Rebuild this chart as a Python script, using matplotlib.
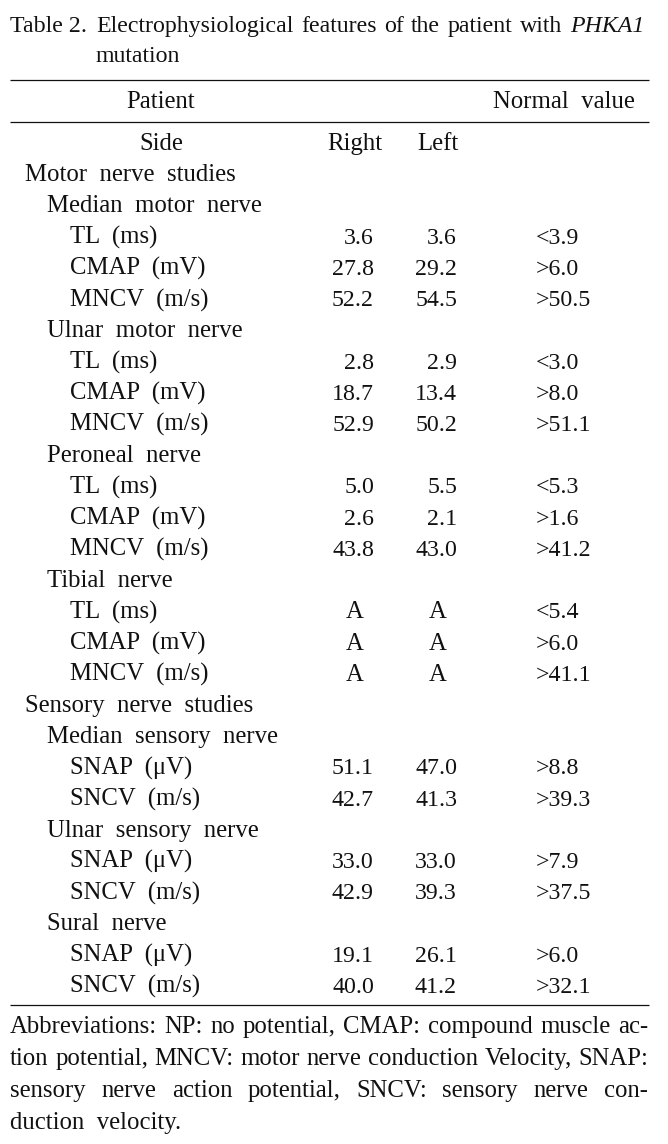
import matplotlib
matplotlib.use("Agg")
import matplotlib.pyplot as plt

plt.rcParams['font.family'] = ['Liberation Serif', 'DejaVu Serif']

# table data
title_words = ["Electrophysiological", "features", "of", "the", "patient", "with"]
title_gene = "PHKA1"
col_patient = "Patient"
col_normal = "Normal value"
col_side = "Side"
col_right = "Right"
col_left = "Left"

labels = ["Motor nerve studies",
          "Median motor nerve", "TL (ms)", "CMAP (mV)", "MNCV (m/s)",
          "Ulnar motor nerve", "TL (ms)", "CMAP (mV)", "MNCV (m/s)",
          "Peroneal nerve", "TL (ms)", "CMAP (mV)", "MNCV (m/s)",
          "Tibial nerve", "TL (ms)", "CMAP (mV)", "MNCV (m/s)",
          "Sensory nerve studies",
          "Median sensory nerve", "SNAP (\u03bcV)", "SNCV (m/s)",
          "Ulnar sensory nerve", "SNAP (\u03bcV)", "SNCV (m/s)",
          "Sural nerve", "SNAP (\u03bcV)", "SNCV (m/s)"]
levels = [0, 1, 2, 2, 2, 1, 2, 2, 2, 1, 2, 2, 2, 1, 2, 2, 2,
          0, 1, 2, 2, 1, 2, 2, 1, 2, 2]
right = ["", "", "3.6", "27.8", "52.2", "", "2.8", "18.7", "52.9",
         "", "5.0", "2.6", "43.8", "", "A", "A", "A",
         "", "", "51.1", "42.7", "", "33.0", "42.9", "", "19.1", "40.0"]
left = ["", "", "3.6", "29.2", "54.5", "", "2.9", "13.4", "50.2",
        "", "5.5", "2.1", "43.0", "", "A", "A", "A",
        "", "", "47.0", "41.3", "", "33.0", "39.3", "", "26.1", "41.2"]
normal = ["", "", "<3.9", ">6.0", ">50.5", "", "<3.0", ">8.0", ">51.1",
          "", "<5.3", ">1.6", ">41.2", "", "<5.4", ">6.0", ">41.1",
          "", "", ">8.8", ">39.3", "", ">7.9", ">37.5", "", ">6.0", ">32.1"]

footnote = ["Abbreviations: NP: no potential, CMAP: compound muscle ac-",
            "tion potential, MNCV: motor nerve conduction Velocity, SNAP:",
            "sensory nerve action potential, SNCV: sensory nerve con-",
            "duction velocity."]

W, H = 668, 1144
fig = plt.figure(figsize=(W / 100, H / 100), dpi=100)
ax = fig.add_axes([0, 0, 1, 1])
ax.set_xlim(0, W)
ax.set_ylim(H, 0)
ax.axis('off')

FS = 17.8       # labels
FS_NUM = 17.2   # numbers
FS_TITLE = 17.2
COLOR = '#111111'
SP = "  "       # the source uses wide word spacing
renderer = fig.canvas.get_renderer()


def put(x, y, s, size=FS, ha='left', style='normal'):
    return ax.text(x, y, s, fontsize=size, color=COLOR, ha=ha,
                   va='baseline', style=style)


def justify(words, x0, x1, y, size=FS, styles=None):
    texts = [put(0, y, w, size=size, style=(styles[i] if styles else 'normal'))
             for i, w in enumerate(words)]
    ws = [t.get_window_extent(renderer=renderer).width for t in texts]
    gap = (x1 - x0 - sum(ws)) / (len(words) - 1)
    x = x0
    for t, w in zip(texts, ws):
        t.set_x(x)
        x += w + gap


# title
put(10, 32, "Table 2.", size=FS_TITLE)
justify(title_words + [title_gene], 96, 644, 32, size=FS_TITLE,
        styles=['normal'] * len(title_words) + ['italic'])
put(96, 62, "mutation", size=FS_TITLE)

# rules
for y in (80, 122, 1005):
    ax.plot([10, 649], [y, y], color=COLOR, lw=0.9, solid_capstyle='butt')

# header
put(161, 108, col_patient, ha='center')
put(635, 108, col_normal.replace(" ", SP), ha='right')
put(161, 150, col_side, ha='center')
put(355, 150, col_right, ha='center')
put(438, 150, col_left, ha='center')

# body
y0, dy = 181.2, 31.22
indent = [25, 47, 70]
for i, lab in enumerate(labels):
    y = y0 + i * dy
    put(indent[levels[i]], y, lab.replace(" ", SP))
    for val, xr, xc in ((right[i], 374, 355), (left[i], 457, 438)):
        if val == "A":
            put(xc, y, val, ha='center')
        elif val:
            put(xr, y, val, size=FS_NUM, ha='right')
    if normal[i]:
        put(536, y, normal[i], size=FS_NUM)

# footnote
fy = [1033, 1065, 1097, 1129]
for j, line in enumerate(footnote):
    if j < len(footnote) - 1:
        justify(line.split(), 10, 648, fy[j])
    else:
        put(10, fy[j], line.replace(" ", SP))

fig.savefig("out.png", dpi=100)
